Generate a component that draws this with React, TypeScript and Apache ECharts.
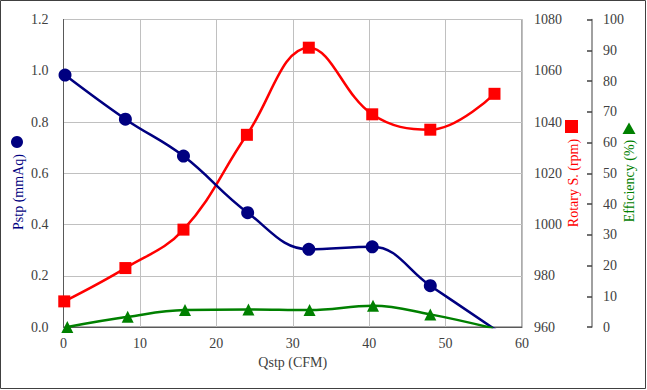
import React, { useEffect, useRef } from "react";
import * as echarts from "echarts";

const pstpQ = [0.2, 8.1, 15.7, 24.1, 32.1, 40.4, 48.0, 56.6];
const pstp = [0.983, 0.811, 0.667, 0.446, 0.303, 0.313, 0.161, -0.012];
const rotQ = [0.1, 8.1, 15.7, 24.0, 32.1, 40.4, 48.0, 56.4];
const rot = [970, 983, 998, 1035, 1069, 1043, 1037, 1051];
const effQ = [0.5, 8.4, 15.9, 24.2, 32.2, 40.5, 48.0, 56.2];
const eff = [0, 3.3, 5.5, 5.7, 5.5, 6.9, 4.1, -0.4];

const FONT = "Liberation Serif";
const LABEL = "#404040";

export default function App() {
  const ref = useRef<HTMLDivElement>(null);
  useEffect(() => {
    if (!ref.current) return;
    const chart = echarts.init(ref.current, undefined, { renderer: "svg" });
    const zip = (xs: number[], ys: number[]) => xs.map((x, i) => [x, ys[i]]);
    const lbl = (extra: any = {}) => ({
      color: LABEL,
      fontSize: 14,
      fontFamily: FONT,
      ...extra,
    });
    chart.setOption({
      animation: false,
      backgroundColor: "#ffffff",
      textStyle: { fontFamily: FONT },
      grid: {
        left: 63.5,
        right: 125,
        top: 19.5,
        bottom: 63,
        show: true,
        borderColor: "#595959",
        borderWidth: 1,
      },
      xAxis: {
        type: "value",
        min: 0,
        max: 60,
        interval: 10,
        axisLine: { show: true, lineStyle: { color: "#595959" } },
        axisTick: { show: false },
        axisLabel: lbl({ margin: 9 }),
        splitLine: { show: true, lineStyle: { color: "#c0c0c0", width: 1 } },
        name: "Qstp (CFM)",
        nameLocation: "middle",
        nameGap: 28,
        nameTextStyle: { color: LABEL, fontSize: 14, fontFamily: FONT },
      },
      yAxis: [
        {
          type: "value",
          min: 0,
          max: 1.2,
          interval: 0.2,
          position: "left",
          axisLine: { show: true, lineStyle: { color: "#595959" } },
          axisTick: { show: false },
          axisLabel: lbl({ margin: 15, formatter: (v: number) => v.toFixed(1) }),
          splitLine: { show: true, lineStyle: { color: "#c0c0c0", width: 1 } },
        },
        {
          type: "value",
          min: 960,
          max: 1080,
          interval: 20,
          position: "right",
          axisLine: { show: false },
          axisTick: { show: false },
          axisLabel: lbl({ margin: 12, formatter: (v: number) => String(v) }),
          splitLine: { show: false },
        },
        {
          type: "value",
          min: 0,
          max: 100,
          interval: 10,
          position: "right",
          offset: 70,
          axisLine: { show: true, lineStyle: { color: "#808080", width: 1.5 } },
          axisTick: { show: true, inside: true, length: 5, lineStyle: { color: "#404040", width: 1.5 } },
          axisLabel: lbl({ margin: 11, formatter: (v: number) => String(v) }),
          splitLine: { show: false },
        },
      ],
      series: [
        {
          name: "Rotary S. (rpm)",
          type: "line",
          yAxisIndex: 1,
          data: zip(rotQ, rot),
          smooth: 0.4,
          symbol: "rect",
          symbolSize: 12,
          lineStyle: { color: "#ff0000", width: 2.5 },
          itemStyle: { color: "#ff0000" },
          z: 2,
        },
        {
          name: "Pstp (mmAq)",
          type: "line",
          yAxisIndex: 0,
          data: zip(pstpQ, pstp),
          smooth: 0.4,
          symbol: "circle",
          symbolSize: 13,
          lineStyle: { color: "#000080", width: 2.5 },
          itemStyle: { color: "#000080" },
          z: 3,
        },
        {
          name: "Efficiency (%)",
          type: "line",
          yAxisIndex: 2,
          data: zip(effQ, eff),
          smooth: 0.4,
          symbol: "triangle",
          symbolSize: 12,
          lineStyle: { color: "#008000", width: 2.5 },
          itemStyle: { color: "#008000" },
          z: 4,
        },
      ],
      graphic: [
        {
          type: "rect",
          shape: { x: 0.5, y: 0.5, width: 645, height: 388 },
          style: { fill: "none", stroke: "#404040", lineWidth: 1 },
          silent: true,
        },
        {
          type: "text",
          x: 18,
          y: 192,
          rotation: Math.PI / 2,
          style: {
            text: "Pstp (mmAq)",
            fill: "#000080",
            font: `14px ${FONT}`,
            align: "center",
            verticalAlign: "middle",
          },
        },
        {
          type: "circle",
          shape: { cx: 17, cy: 142, r: 6 },
          style: { fill: "#000080" },
        },
        {
          type: "text",
          x: 573,
          y: 183,
          rotation: Math.PI / 2,
          style: {
            text: "Rotary S. (rpm)",
            fill: "#ff0000",
            font: `14px ${FONT}`,
            align: "center",
            verticalAlign: "middle",
          },
        },
        {
          type: "rect",
          shape: { x: 565, y: 120, width: 13, height: 13 },
          style: { fill: "#ff0000" },
        },
        {
          type: "text",
          x: 629,
          y: 181,
          rotation: Math.PI / 2,
          style: {
            text: "Efficiency (%)",
            fill: "#008000",
            font: `14px ${FONT}`,
            align: "center",
            verticalAlign: "middle",
          },
        },
        {
          type: "polygon",
          shape: { points: [[629, 122.5], [622.5, 134], [635.5, 134]] },
          style: { fill: "#008000" },
        },
      ],
    });
    return () => chart.dispose();
  }, []);
  return (
    <div
      ref={ref}
      style={{ position: "fixed", left: 0, top: 0, width: 647, height: 390, background: "#fff" }}
    />
  );
}
